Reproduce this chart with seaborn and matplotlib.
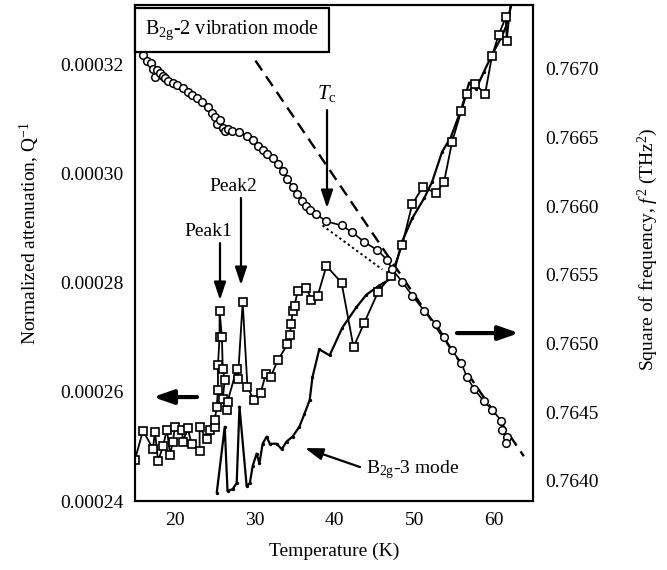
import matplotlib
matplotlib.use("Agg")
import matplotlib.pyplot as plt
import seaborn as sns
import pandas as pd

# ---------------- data ----------------
# B2g-2 attenuation (open squares, left axis)
sq_T = [15.0, 16.0, 17.25, 17.5, 17.9, 18.5, 19.0, 19.4, 19.75, 20.0, 20.9, 21.0, 21.6, 22.1,
        23.1, 23.1, 24.0, 24.4, 25.0, 25.0, 25.25, 25.4, 25.4, 25.6, 25.6, 25.9, 26.0, 26.25,
        26.0, 26.5, 26.6, 27.75, 27.9, 28.5, 29.1, 29.9, 30.75, 31.4, 32.0, 32.9, 34.1, 34.4,
        34.6, 34.75, 35.0, 35.4, 36.5, 37.1, 37.9, 39.0, 40.9, 42.4, 43.75, 45.5, 47.1, 48.5,
        49.75, 51.1, 52.75, 53.75, 54.75, 55.9, 56.6, 57.6, 58.9, 59.75, 60.6, 61.5, 61.6, 62.3]
sq_Q = [0.0002476, 0.0002529, 0.0002496, 0.0002527, 0.0002473, 0.0002500, 0.0002531, 0.0002485,
        0.0002509, 0.0002536, 0.0002531, 0.0002509, 0.0002533, 0.0002505, 0.0002491, 0.0002536,
        0.0002513, 0.0002531, 0.0002536, 0.0002549, 0.0002573, 0.0002604, 0.0002649, 0.0002700,
        0.0002749, 0.0002700, 0.0002642, 0.0002622, 0.0002587, 0.0002567, 0.0002582, 0.0002642,
        0.0002624, 0.0002764, 0.0002609, 0.0002585, 0.0002598, 0.0002633, 0.0002627, 0.0002658,
        0.0002687, 0.0002705, 0.0002724, 0.0002749, 0.0002758, 0.0002785, 0.0002791, 0.0002769,
        0.0002776, 0.0002831, 0.0002800, 0.0002682, 0.0002727, 0.0002784, 0.0002813, 0.0002869,
        0.0002944, 0.0002976, 0.0002964, 0.0002985, 0.0003058, 0.0003115, 0.0003147, 0.0003164,
        0.0003147, 0.0003215, 0.0003255, 0.0003287, 0.0003244, 0.0003340]

# B2g-3 mode (solid line, left axis)
b3_T = [25.25, 26.25, 26.6, 27.25, 27.75, 28.1, 29.0, 29.4, 29.75, 30.25, 30.6, 31.0, 31.5, 31.9,
        32.75, 33.4, 34.0, 34.75, 35.6, 36.25, 36.9, 37.25, 38.1, 39.4, 41.0, 42.75, 44.0, 45.6,
        47.25, 48.5, 49.75, 51.25, 52.25, 53.5, 54.6, 55.9, 56.9, 57.75, 58.75, 59.75, 60.9,
        61.5, 62.25, 63.0]
b3_Q = [0.0002415, 0.0002536, 0.0002418, 0.0002422, 0.0002433, 0.0002573, 0.0002427, 0.0002433,
        0.0002464, 0.0002487, 0.0002469, 0.0002505, 0.0002518, 0.0002505, 0.0002505, 0.0002495,
        0.0002509, 0.0002518, 0.0002536, 0.0002560, 0.0002585, 0.0002627, 0.0002678, 0.0002667,
        0.0002718, 0.0002755, 0.0002778, 0.0002795, 0.0002809, 0.0002876, 0.0002918, 0.0002955,
        0.0002985, 0.0003040, 0.0003067, 0.0003118, 0.0003167, 0.0003155, 0.0003187, 0.0003218,
        0.0003249, 0.0003269, 0.0003313, 0.0003340]

# B2g-2 square of frequency (open circles, right axis)
ci_T = [16.0, 16.5, 17.0, 17.3, 17.5, 17.8, 18.1, 18.5, 18.8, 19.2, 19.75, 20.3, 21.0, 21.6, 22.2,
        22.75, 23.4, 24.1, 24.6, 25.0, 25.3, 25.6, 26.0, 26.25, 26.6, 27.2, 28.1, 29.0, 29.75,
        30.4, 31.0, 31.6, 32.25, 32.9, 33.5, 34.1, 34.75, 35.3, 35.9, 36.4, 36.9, 37.75, 39.0,
        40.9, 42.25, 43.75, 45.4, 46.6, 47.25, 48.5, 49.75, 51.25, 52.75, 53.75, 54.75, 55.9,
        56.6, 57.5, 58.75, 59.75, 60.9, 61.0, 61.6, 61.5]
ci_F = [0.76710, 0.76706, 0.76704, 0.76700, 0.76694, 0.76699, 0.76697, 0.76695, 0.76693, 0.76691,
        0.76690, 0.76688, 0.76686, 0.76683, 0.76681, 0.76679, 0.76676, 0.76672, 0.76668, 0.76665,
        0.76660, 0.76663, 0.76657, 0.76655, 0.76656, 0.76655, 0.76654, 0.76651, 0.76648, 0.76644,
        0.76641, 0.76638, 0.76635, 0.76631, 0.76626, 0.76620, 0.76614, 0.76609, 0.76604, 0.76600,
        0.76597, 0.76594, 0.76589, 0.76586, 0.76581, 0.76574, 0.76568, 0.76561, 0.76554, 0.76545,
        0.76535, 0.76524, 0.76514, 0.76505, 0.76495, 0.76486, 0.76476, 0.76467, 0.76458, 0.76452,
        0.76444, 0.76437, 0.76432, 0.76428]

# linear fits drawn as reference lines (right axis)
fit_hi_T = [30.1, 63.75]
fit_hi_F = [0.76706, 0.76418]
fit_lo_T = [38.5, 46.0]
fit_lo_F = [0.76586, 0.76554]

x_ticks = [20, 30, 40, 50, 60]
left_ticks = [0.00024, 0.00026, 0.00028, 0.00030, 0.00032]
left_labels = ["0.00024", "0.00026", "0.00028", "0.00030", "0.00032"]
right_ticks = [0.7640, 0.7645, 0.7650, 0.7655, 0.7660, 0.7665, 0.7670]
right_labels = ["0.7640", "0.7645", "0.7650", "0.7655", "0.7660", "0.7665", "0.7670"]

# ---------------- style ----------------
sns.set_theme(style="white")
plt.rcParams["font.family"] = ["Liberation Serif", "DejaVu Serif"]
plt.rcParams["mathtext.fontset"] = "custom"
plt.rcParams["mathtext.rm"] = "Liberation Serif"
plt.rcParams["mathtext.it"] = "Liberation Serif:italic"
plt.rcParams["text.color"] = "black"
plt.rcParams["axes.labelcolor"] = "black"
plt.rcParams["xtick.color"] = "black"
plt.rcParams["ytick.color"] = "black"
plt.rcParams["axes.edgecolor"] = "black"
plt.rcParams["axes.linewidth"] = 1.5

FS = 14
fig = plt.figure(figsize=(6.67, 5.70), dpi=100)
ax = fig.add_axes([0.2024, 0.121, 0.5967, 0.870])
ax2 = ax.twinx()

sq_df = pd.DataFrame({"T": sq_T, "Q": sq_Q})
b3_df = pd.DataFrame({"T": b3_T, "Q": b3_Q})
ci_df = pd.DataFrame({"T": ci_T, "F": ci_F})

sns.lineplot(data=b3_df, x="T", y="Q", ax=ax, sort=False, estimator=None, color="black",
             lw=1.6, marker="o", markersize=2.4, markeredgewidth=0)
sns.lineplot(data=sq_df, x="T", y="Q", ax=ax, sort=False, estimator=None, color="black",
             lw=1.3, marker="s", markersize=6.3, markerfacecolor="white",
             markeredgecolor="black", markeredgewidth=1.2)

sns.lineplot(x=fit_hi_T, y=fit_hi_F, ax=ax2, color="black", lw=1.7, linestyle=(0, (5, 3)))
sns.lineplot(x=fit_lo_T, y=fit_lo_F, ax=ax2, color="black", lw=1.4, linestyle=(0, (1.2, 1.5)))
sns.lineplot(data=ci_df, x="T", y="F", ax=ax2, sort=False, estimator=None, color="black",
             lw=1.2, marker="o", markersize=5.5, markerfacecolor="white",
             markeredgecolor="black", markeredgewidth=1.1)

ax.set_xlim(15, 64.9)
ax.set_ylim(0.00024, 0.0003309)
ax2.set_ylim(0.763854, 0.767464)

ax.set_xticks(x_ticks)
ax.set_xticklabels([str(v) for v in x_ticks], fontsize=FS)
ax.set_yticks(left_ticks)
ax.set_yticklabels(left_labels, fontsize=FS)
ax2.set_yticks(right_ticks)
ax2.set_yticklabels(right_labels, fontsize=FS)

ax.tick_params(axis="x", direction="in", length=10, width=1.2, pad=8, colors="black")
ax.tick_params(axis="y", length=0, pad=8, colors="black")
ax2.tick_params(axis="y", length=0, pad=9, colors="black")
for a in (ax, ax2):
    for s in a.spines.values():
        s.set_color("black")
        s.set_linewidth(1.5)
ax.grid(False)
ax2.grid(False)

ax.set_xlabel("Temperature (K)", fontsize=FS, labelpad=10, color="black")
ax.set_ylabel("")
ax2.set_ylabel("")
fig.text(30 / 667, 1 - 233 / 570, "Normalized attenuation, Q$^{-1}$", rotation=90,
         ha="center", va="center", fontsize=FS, color="black")
fig.text(648 / 667, 1 - 249 / 570, "Square of frequency, $f$$^{\\,2}$ (THz$^2$)", rotation=90,
         ha="center", va="center", fontsize=FS, color="black")

# ---------------- annotations ----------------
def fx(px):
    return (px - 135) / 398.0

def fy(py):
    return (501 - py) / 496.0

ax2.text(fx(232), fy(30), "B$_{\\mathrm{2g}}$-2 vibration mode", transform=ax.transAxes,
         fontsize=FS + 0.5, ha="center", va="center", zorder=10, color="black",
         bbox=dict(boxstyle="square,pad=0.5", fc="white", ec="black", lw=1.6))

arrow = dict(arrowstyle="-|>,head_length=0.9,head_width=0.3", color="black", lw=1.6,
             shrinkA=0, shrinkB=0)
big_arrow = dict(arrowstyle="-|>,head_length=1.0,head_width=0.35", color="black", lw=3,
                 shrinkA=0, shrinkB=0)

ax2.annotate("", xy=(fx(327), fy(208)), xytext=(fx(327), fy(110)),
             xycoords="axes fraction", textcoords="axes fraction", arrowprops=arrow)
ax2.text(fx(327), fy(93), "$T$$_{\\mathrm{c}}$", transform=ax.transAxes, fontsize=FS + 1,
         ha="center", va="center", color="black")

ax2.annotate("", xy=(fx(241), fy(285)), xytext=(fx(241), fy(198)),
             xycoords="axes fraction", textcoords="axes fraction", arrowprops=arrow)
ax2.text(fx(233), fy(186), "Peak2", transform=ax.transAxes, fontsize=FS,
         ha="center", va="center", color="black")

ax2.annotate("", xy=(fx(220), fy(300)), xytext=(fx(220), fy(243)),
             xycoords="axes fraction", textcoords="axes fraction", arrowprops=arrow)
ax2.text(fx(208), fy(231), "Peak1", transform=ax.transAxes, fontsize=FS,
         ha="center", va="center", color="black")

ax2.annotate("", xy=(fx(153), fy(397)), xytext=(fx(197), fy(397)),
             xycoords="axes fraction", textcoords="axes fraction", arrowprops=big_arrow)
ax2.annotate("", xy=(fx(519), fy(333)), xytext=(fx(457), fy(333)),
             xycoords="axes fraction", textcoords="axes fraction", arrowprops=big_arrow)

ax2.annotate("", xy=(fx(305), fy(448)), xytext=(fx(360), fy(467)),
             xycoords="axes fraction", textcoords="axes fraction", arrowprops=arrow)
ax2.text(fx(366), fy(470), "B$_{\\mathrm{2g}}$-3 mode", transform=ax.transAxes, fontsize=FS,
         ha="left", va="center", color="black")

fig.savefig("out.png", dpi=100, facecolor="white")
